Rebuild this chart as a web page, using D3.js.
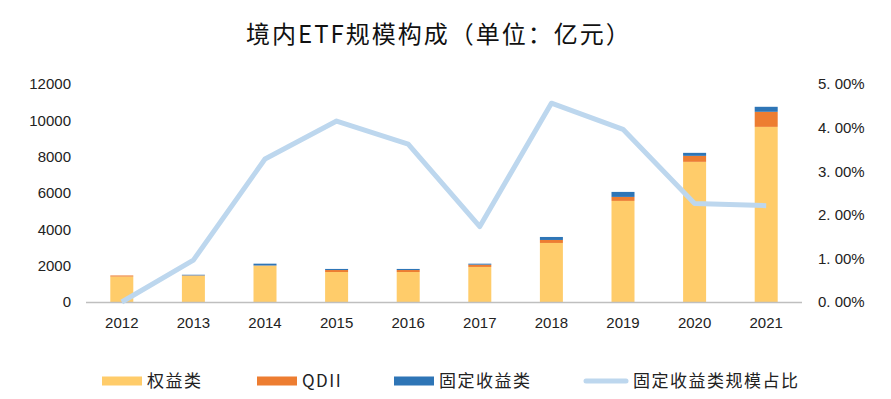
<!DOCTYPE html>
<html>
<head>
<meta charset="utf-8">
<script src="https://cdn.jsdelivr.net/npm/d3@7"></script>
<style>
  body { margin: 0; background: #fff; }
  text { font-family: "Liberation Sans", Arial, sans-serif; }
  .cjk { font-family: "Noto Sans CJK SC", sans-serif; }
</style>
</head>
<body>
<svg id="chart" width="891" height="399"></svg>
<script>
// data (亿元)
const years = ["2012","2013","2014","2015","2016","2017","2018","2019","2020","2021"];
const equity = [1400, 1450, 2000, 1650, 1650, 1930, 3250, 5565, 7715, 9640];
const qdii   = [60, 15, 10, 110, 110, 125, 165, 220, 330, 830];
const fixed  = [0, 35, 100, 60, 60, 55, 165, 275, 165, 275];
const fixedShare = [0.0, 0.96, 3.28, 4.15, 3.62, 1.73, 4.56, 3.96, 2.26, 2.21]; // %
const leftTicks = [0, 2000, 4000, 6000, 8000, 10000, 12000];
const rightTicks = [0, 1, 2, 3, 4, 5];

const seriesNames = ["权益类", "QDII", "固定收益类"];
const colors = ["#FFCC6A", "#ED7D31", "#2E75B6"];
const lineColor = "#BDD7EE";

const svg = d3.select("#chart");

const x = d3.scaleBand().domain(years).range([86, 802]);
const yL = d3.scaleLinear().domain([0, 12000]).range([302, 84]);
const yR = d3.scaleLinear().domain([0, 5]).range([302, 84]);

// title
svg.append("text")
  .attr("class", "cjk")
  .attr("x", 439).attr("y", 43)
  .attr("text-anchor", "middle")
  .attr("font-size", 24)
  .attr("letter-spacing", 2)
  .attr("fill", "#111")
  .text("境内ETF规模构成（单位：亿元）");

// stacked bars
const rows = years.map((y, i) => ({ year: y, a: equity[i], b: qdii[i], c: fixed[i] }));
const stack = d3.stack().keys(["a", "b", "c"])(rows);
const bw = 23;
svg.append("g").selectAll("g")
  .data(stack).join("g")
  .attr("fill", (d, i) => colors[i])
  .selectAll("rect")
  .data(d => d).join("rect")
  .attr("x", d => x(d.data.year) + x.bandwidth() / 2 - bw / 2)
  .attr("width", bw)
  .attr("y", d => yL(d[1]))
  .attr("height", d => yL(d[0]) - yL(d[1]));

// x axis line
svg.append("line")
  .attr("x1", 86).attr("x2", 802)
  .attr("y1", yL(0) + 0.5).attr("y2", yL(0) + 0.5)
  .attr("stroke", "#bfbfbf").attr("stroke-width", 1.5);

// line series
const line = d3.line()
  .x((d, i) => x(years[i]) + x.bandwidth() / 2)
  .y(d => yR(d));
svg.append("path")
  .datum(fixedShare)
  .attr("d", line)
  .attr("fill", "none")
  .attr("stroke", lineColor)
  .attr("stroke-width", 5)
  .attr("stroke-linejoin", "round");

// left axis
const axL = d3.axisLeft(yL).tickValues(leftTicks).tickSize(0).tickPadding(0)
  .tickFormat(d3.format("d"));
svg.append("g").attr("transform", "translate(71,0)").call(axL)
  .call(g => g.select(".domain").remove())
  .selectAll("text").attr("font-size", 15).attr("fill", "#222")
  .attr("font-family", "Liberation Sans, Arial, sans-serif");

// right axis
const axR = d3.axisRight(yR).tickValues(rightTicks).tickSize(0).tickPadding(0)
  .tickFormat(d => d3.format(".2f")(d).replace(".", ". ") + "%");
svg.append("g").attr("transform", "translate(818,0)").call(axR)
  .call(g => g.select(".domain").remove())
  .selectAll("text").attr("font-size", 15).attr("fill", "#222")
  .attr("font-family", "Liberation Sans, Arial, sans-serif");

// bottom axis
const axB = d3.axisBottom(x).tickSize(0).tickPadding(0);
svg.append("g").attr("transform", "translate(0,317)").call(axB)
  .call(g => g.select(".domain").remove())
  .selectAll("text").attr("font-size", 15).attr("fill", "#222")
  .attr("font-family", "Liberation Sans, Arial, sans-serif");

// legend
const legend = [
  { name: seriesNames[0], color: colors[0], x: 102, type: "rect" },
  { name: seriesNames[1], color: colors[1], x: 257, type: "rect" },
  { name: seriesNames[2], color: colors[2], x: 394, type: "rect" },
  { name: "固定收益类规模占比", color: lineColor, x: 584, type: "line" }
];
const lg = svg.append("g").selectAll("g").data(legend).join("g")
  .attr("transform", d => `translate(${d.x},381)`);
lg.filter(d => d.type === "rect").append("rect")
  .attr("x", 0).attr("y", -4.5).attr("width", 40).attr("height", 9)
  .attr("fill", d => d.color);
lg.filter(d => d.type === "line").append("line")
  .attr("x1", 2).attr("x2", 42).attr("y1", 0).attr("y2", 0)
  .attr("stroke", d => d.color).attr("stroke-width", 5)
  .attr("stroke-linecap", "round");
lg.append("text")
  .attr("class", "cjk")
  .attr("x", d => d.type === "line" ? 49 : 45)
  .attr("y", 6)
  .attr("font-size", 17)
  .attr("letter-spacing", 1.5)
  .attr("fill", "#222")
  .text(d => d.name);
</script>
</body>
</html>
